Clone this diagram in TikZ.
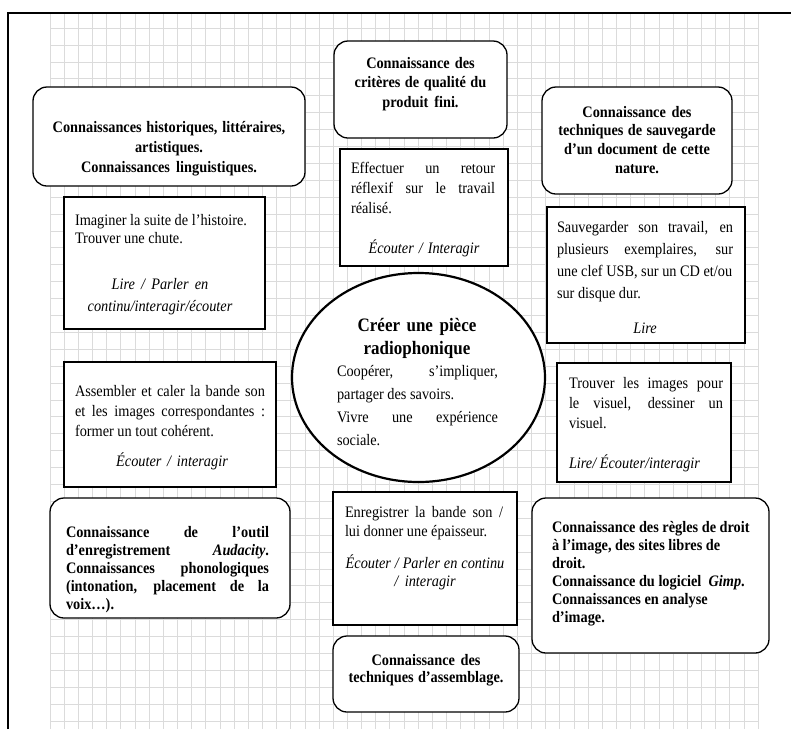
\documentclass[tikz,border=0pt]{standalone}
\usepackage{fontspec}
\setmainfont[FakeStretch=0.894]{Liberation Serif}
\usetikzlibrary{shapes.geometric}
\newcommand{\ssp}{\spaceskip=0pt\xspaceskip=0pt\relax}
\newcommand{\jl}[2]{\makebox[#1][s]{#2}}
\newcommand{\bx}[6]{\node[#2, minimum width={(#5-#3)*1pt}, minimum height={(#6-#4)*1pt}] (#1) at ({(#3+#5)/2},{(#4+#6)/2}) {};}
\begin{document}
\begin{tikzpicture}[x=1pt,y=-1pt,
  gridline/.style={draw=black!14, line width=0.7pt},
  frameline/.style={draw=black, line width=2.4pt},
  rbox/.style={draw=black, line width=1.3pt, rounded corners=14pt, fill=white, inner sep=0pt, outer sep=0pt},
  sbox/.style={draw=black, line width=1.3pt, fill=white, inner sep=0pt, outer sep=0pt},
  ebox/.style={draw=black, line width=2.2pt, ellipse, fill=white, inner sep=0pt, outer sep=0pt},
  txt/.style={inner sep=0pt, outer sep=0pt, anchor=north west, align=left},
  ctxt/.style={inner sep=0pt, outer sep=0pt, anchor=north, align=center}]
\useasboundingbox (0,0) rectangle (791,729);
\fill[white] (0,0) rectangle (791,729);
% grid
\foreach \i in {0,...,50} \draw[gridline] ({50+14.16*\i},14) -- ({50+14.16*\i},729);
\foreach \j in {0,...,41} \draw[gridline] (50,{721-16.9*\j}) -- (758,{721-16.9*\j});
% frame
\draw[frameline] (8,729) -- (8,13) -- (791,13);
% boxes
\bx{hist}{rbox}{33}{87}{305}{186}
\bx{imag}{sbox}{64}{197}{265}{329}
\bx{assem}{sbox}{64}{362}{276}{487}
\bx{outil}{rbox}{50}{498}{290}{618}
\bx{crit}{rbox}{334}{41}{507}{138}
\bx{retour}{sbox}{340}{149}{508}{266}
\bx{sauvc}{rbox}{542}{87}{732}{194}
\bx{sauv}{sbox}{547}{207}{745}{343}
\bx{trouv}{sbox}{557}{363}{731}{482}
\bx{enreg}{sbox}{333}{492}{517}{625}
\bx{techa}{rbox}{333}{636}{519}{712}
\bx{droit}{rbox}{532}{498}{769}{653}
\node[ebox, minimum width=253pt, minimum height=209pt] (centre) at (418.5,377.5) {};
% texts
\node[ctxt, text width=270pt, font={\fontsize{16}{20}\selectfont\bfseries}] (thist) at (169,118)
  {\ssp\strut Connaissances historiques, littéraires,\\ artistiques.\\ Connaissances linguistiques.};
\node[txt, text width=190pt, font={\fontsize{16}{18}\selectfont}] (timag) at (75,212.5)
  {\ssp\strut Imaginer la suite de l'histoire.\\ Trouver une chute.};
\node[ctxt, text width=190pt, font={\fontsize{16}{22}\selectfont\itshape}] (timagi) at (160,274.5)
  {\ssp\strut Lire / Parler en\\ continu/interagir/écouter};
\node[txt, text width=190pt, font={\fontsize{16}{20}\selectfont}] (tassem) at (75,382)
  {\ssp\strut\jl{190pt}{Assembler et caler la bande son}\\ \jl{190pt}{et les images correspondantes :}\\ former un tout cohérent.};
\node[ctxt, text width=190pt, font={\fontsize{16}{18}\selectfont\itshape}] (tassemi) at (172,452.5)
  {\ssp\strut Écouter / interagir};
\node[txt, text width=203pt, font={\fontsize{16}{18}\selectfont\bfseries}] (toutil) at (66,524.5)
  {\ssp\strut\jl{203pt}{Connaissance de l'outil}\\ \jl{203pt}{d’enregistrement \textit{Audacity}.}\\ \jl{203pt}{Connaissances phonologiques}\\ \jl{203pt}{(intonation, placement de la}\\ voix…).};
\node[ctxt, text width=165pt, font={\fontsize{16}{19.5}\selectfont\bfseries}] (tcrit) at (420.5,54.5)
  {\ssp\strut Connaissance des\\ critères de qualité du\\ produit fini.};
\node[txt, text width=144pt, font={\fontsize{16}{20}\selectfont}] (tretour) at (351,159)
  {\ssp\strut\jl{144pt}{Effectuer un retour}\\ \jl{144pt}{réflexif sur le travail}\\ réalisé.};
\node[ctxt, text width=160pt, font={\fontsize{16}{18}\selectfont\itshape}] (tretouri) at (424,239.5)
  {\ssp\strut Écouter / Interagir};
\node[ctxt, text width=185pt, font={\fontsize{16}{18.7}\selectfont\bfseries}] (tsauvc) at (637,104)
  {\ssp\strut Connaissance des\\ techniques de sauvegarde\\ d'un document de cette\\ nature.};
\node[txt, text width=176pt, font={\fontsize{16}{22}\selectfont}] (tsauv) at (557,217.5)
  {\ssp\strut\jl{176pt}{Sauvegarder son travail, en}\\ \jl{176pt}{plusieurs exemplaires, sur}\\ une clef USB, sur un CD et/ou\\ sur disque dur.};
\node[ctxt, text width=176pt, font={\fontsize{16}{18}\selectfont\itshape}] (tsauvi) at (645,320.5)
  {\ssp\strut Lire};
\node[txt, text width=154pt, font={\fontsize{16}{20}\selectfont}] (ttrouv) at (569,374)
  {\ssp\strut\jl{154pt}{Trouver les images pour}\\ \jl{154pt}{le visuel, dessiner un}\\ visuel.};
\node[txt, text width=154pt, font={\fontsize{16}{18}\selectfont\itshape}] (ttrouvi) at (569,454.5)
  {\ssp\strut Lire/ Écouter/interagir};
\node[txt, text width=158pt, font={\fontsize{16}{19}\selectfont}] (tenreg) at (345,504.5)
  {\ssp\strut\jl{158pt}{Enregistrer la bande son /}\\ lui donner une épaisseur.};
\node[ctxt, text width=170pt, font={\fontsize{16}{18}\selectfont\itshape}] (tenregi) at (425,554.5)
  {\ssp\strut Écouter / Parler en continu\\ / interagir};
\node[ctxt, text width=180pt, font={\fontsize{16}{17}\selectfont\bfseries}] (ttecha) at (426,654)
  {\ssp\strut Connaissance des\\ techniques d'assemblage.};
\node[txt, text width=210pt, font={\fontsize{16}{18}\selectfont\bfseries}] (tdroit) at (552,519.5)
  {\ssp\strut Connaissance des règles de droit\\ à l'image, des sites libres de\\ droit.\\ Connaissance du logiciel~ \textit{Gimp}.\\ Connaissances en analyse\\ d'image.};
\node[ctxt, text width=200pt, font={\fontsize{19}{23}\selectfont\bfseries}] (ttitle) at (417,315)
  {\ssp\strut Créer une pièce\\ radiophonique};
\node[txt, text width=161pt, font={\fontsize{16}{22.7}\selectfont}] (tcentre) at (337,361)
  {\ssp\strut\jl{161pt}{Coopérer, s'impliquer,}\\ partager des savoirs.\\ \jl{161pt}{Vivre une expérience}\\ sociale.};
\end{tikzpicture}
\end{document}
